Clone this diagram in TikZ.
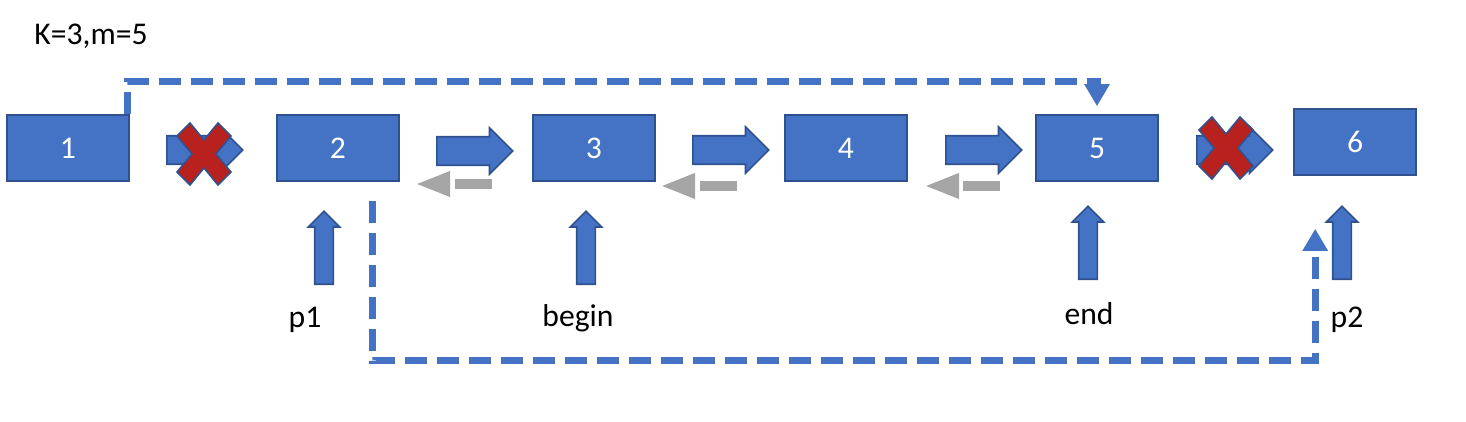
\documentclass[tikz,border=0pt]{standalone}
\usepackage{fontspec}
\setmainfont{Carlito}
\usetikzlibrary{shapes.arrows,arrows.meta}
\definecolor{boxblue}{HTML}{4472C4}
\definecolor{edgeblue}{HTML}{2F528F}
\definecolor{backgray}{HTML}{A5A5A5}
\definecolor{crossred}{RGB}{185,33,30}
\tikzset{
    listbox/.style={draw=edgeblue, fill=boxblue, line width=0.9pt,
        minimum width=2.44cm, minimum height=1.32cm, inner sep=0pt,
        text=white, font=\fontsize{18}{20}\selectfont},
    fwdarrow/.style={single arrow, draw=edgeblue, fill=boxblue,
        line width=0.9pt, inner sep=0.27cm, minimum height=1.52cm,
        single arrow head extend=0.18cm, anchor=tail},
    uparrow/.style={single arrow, draw=edgeblue, fill=boxblue,
        line width=0.9pt, inner sep=0.17cm, shape border rotate=90,
        minimum height=1.46cm, single arrow head extend=0.13cm,
        anchor=tail},
    backarrow/.style={draw=backgray, line width=0.22cm,
        dash pattern=on 0.74cm off 0.1cm,
        -{Triangle[length=0.7cm,width=0.46cm]}},
    jumpline/.style={draw=boxblue, line width=0.14cm,
        dash pattern=on 0.44cm off 0.2cm,
        -{Triangle[length=0.44cm,width=0.48cm]}},
    ptrtext/.style={font=\fontsize{18}{20}\selectfont},
    pics/crossmark/.style={code={
        \filldraw[fill=crossred, draw=edgeblue, line width=0.9pt]
            (-27,-18) -- (-14,-31) -- (0,-14) -- (14,-31) -- (27,-18)
            -- (12,0) -- (27,18) -- (14,31) -- (0,14) -- (-14,31)
            -- (-27,18) -- (-12,0) -- cycle;
    }}
}

\begin{document}
\begin{tikzpicture}[x=0.02cm, y=-0.02cm]
    \useasboundingbox (0,0) rectangle (1466,422);

    \node[ptrtext] (km) at (91,36) {K=3,m=5};

    \node[listbox] (n1) at (68,148) {1};
    \node[listbox] (n2) at (338,148) {2};
    \node[listbox] (n3) at (594,148) {3};
    \node[listbox] (n4) at (846,148) {4};
    \node[listbox] (n5) at (1097,148) {5};
    \node[listbox] (n6) at (1355,142) {6};

    \node[fwdarrow] (a12) at (166,150) {};
    \node[fwdarrow] (a23) at (436,151) {};
    \node[fwdarrow] (a34) at (692,150) {};
    \node[fwdarrow] (a45) at (945,150) {};
    \node[fwdarrow] (a56) at (1196,150) {};

    \pic at (204,154) {crossmark};
    \pic at (1226,148) {crossmark};

    \coordinate (g23s) at (492,184);
    \coordinate (g23e) at (415,184);
    \coordinate (g34s) at (737,186);
    \coordinate (g34e) at (660,186);
    \coordinate (g45s) at (1000,186);
    \coordinate (g45e) at (924,186);
    \draw[backarrow] (g23s) -- (g23e);
    \draw[backarrow] (g34s) -- (g34e);
    \draw[backarrow] (g45s) -- (g45e);

    \node[uparrow] (u2) at (324,285) {};
    \node[uparrow] (u3) at (586,285) {};
    \node[uparrow] (u5) at (1088,280) {};
    \node[uparrow] (u6) at (1342,280) {};

    \node[ptrtext] (p1) at (305,320) {p1};
    \node[ptrtext] (pb) at (578,318) {begin};
    \node[ptrtext] (pe) at (1089,314) {end};
    \node[ptrtext] (p2) at (1347,320) {p2};

    \draw[jumpline] ([xshift=-0.04cm]n1.north east)
        |- ([yshift=0.66cm]n5.north) -- ([yshift=0.16cm]n5.north);
    \draw[jumpline] ([xshift=-0.54cm,yshift=-0.38cm]n2.south east)
        -- ++(0,160) -| ([xshift=0.44cm,yshift=-1.06cm]n6.south west);
\end{tikzpicture}
\end{document}
